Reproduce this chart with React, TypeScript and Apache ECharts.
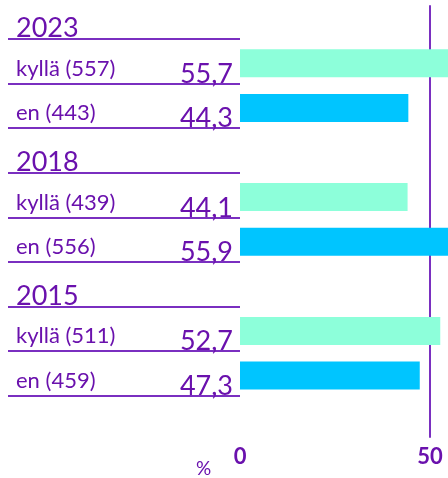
import { useEffect, useRef } from "react";
import * as echarts from "echarts";

const years = ["2023", "2018", "2015"];
const yesCounts = [557, 439, 511];
const noCounts = [443, 556, 459];
const yesPct = [55.7, 44.1, 52.7];
const noPct = [44.3, 55.9, 47.3];
const yesLabel = "kyllä";
const noLabel = "en";
const unitLabel = "%";

const PURPLE = "#6a11ad";
const LINE = "#7a2fc0";
const YES = "#8dffda";
const NO = "#00c5ff";
const FONT = "Lato";

const fmt = (v: number) => v.toFixed(1).replace(".", ",");

export default function App() {
  const ref = useRef<HTMLDivElement>(null);
  useEffect(() => {
    const labels: string[] = [];
    const values: (number | null)[] = [];
    const kinds: string[] = [];
    years.forEach((y, i) => {
      labels.push(y); values.push(null); kinds.push("h");
      labels.push(`${yesLabel} (${yesCounts[i]})`); values.push(yesPct[i]); kinds.push("y");
      labels.push(`${noLabel} (${noCounts[i]})`); values.push(noPct[i]); kinds.push("n");
    });
    const chart = echarts.init(ref.current!, null, { renderer: "svg" });
    const rowH = 44.6;
    const top = -5.6;
    const H = rowH * labels.length;
    const rich = {
      nm: { fontSize: 22, color: PURPLE, fontFamily: FONT, padding: [12, 0, 0, 0] },
      yr: { fontSize: 27, color: PURPLE, fontFamily: FONT, padding: [20, 0, 0, 0] },
      val: { fontSize: 27, color: PURPLE, fontFamily: FONT, padding: [22, 0, 0, 0] },
    };
    chart.setOption({
      animation: false,
      textStyle: { fontFamily: FONT },
      grid: [
        { left: 240, top: top + 2, width: 228, height: H, outerBoundsMode: "none", containLabel: false },
        { left: 240, top: top, width: 10, height: H, outerBoundsMode: "none", containLabel: false },
        { left: 240, top: 6, width: 190, height: 431, outerBoundsMode: "none", containLabel: false },
      ],
      xAxis: [
        { gridIndex: 0, type: "value", min: 0, max: 60, show: false },
        { gridIndex: 1, type: "value", min: 0, max: 1, show: false },
        {
          gridIndex: 2, type: "value", min: 0, max: 50, interval: 50,
          axisLine: { show: false }, axisTick: { show: false }, splitLine: { show: false },
          axisLabel: { color: PURPLE, fontSize: 22, fontWeight: "bold", margin: 7, fontFamily: FONT },
        },
      ],
      yAxis: [
        { gridIndex: 0, type: "category", data: labels, inverse: true, show: false },
        {
          gridIndex: 1, type: "category", data: labels, inverse: true, position: "left",
          axisLine: { show: false },
          axisTick: { show: true, length: 232, lineStyle: { color: LINE, width: 2 } },
          axisLabel: {
            align: "left", margin: 224, rich,
            formatter: (v: string, i: number) => (kinds[i] === "h" ? `{yr|${v}}` : `{nm|${v}}`),
          },
        },
        {
          gridIndex: 1, type: "category", data: labels, inverse: true, position: "left",
          axisLine: { show: false }, axisTick: { show: false },
          axisLabel: {
            align: "right", margin: 7, rich,
            formatter: (_v: string, i: number) => (values[i] == null ? "" : `{val|${fmt(values[i] as number)}}`),
          },
        },
        {
          gridIndex: 2, type: "value", min: 0, max: 1, position: "right",
          axisLine: { show: true, onZero: false, lineStyle: { color: LINE, width: 2 } },
          axisTick: { show: false }, axisLabel: { show: false }, splitLine: { show: false },
        },
      ],
      series: [
        {
          type: "bar", xAxisIndex: 0, yAxisIndex: 0, barWidth: 28,
          data: values.map((v, i) => (v == null ? "-" : { value: v, itemStyle: { color: kinds[i] === "y" ? YES : NO } })),
        },
      ],
      graphic: [
        { type: "text", left: 196, top: 458, style: { text: unitLabel, fontSize: 19, fill: PURPLE, fontFamily: FONT } },
      ],
    });
    return () => chart.dispose();
  }, []);
  return <div ref={ref} style={{ position: "fixed", left: 0, top: 0, width: 448, height: 478 }} />;
}
